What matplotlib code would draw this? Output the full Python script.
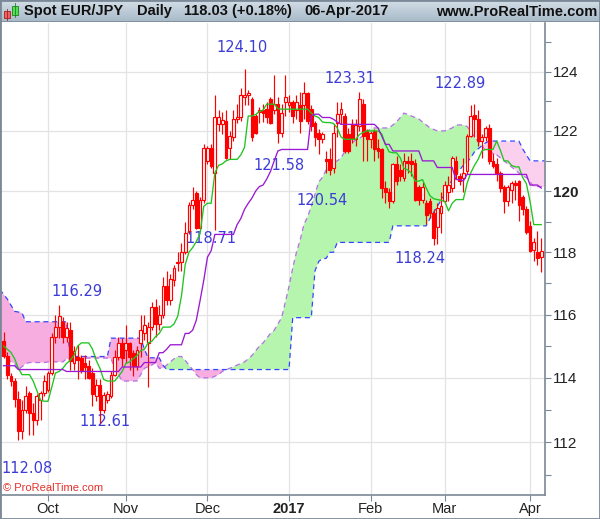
import numpy as np
import pandas as pd
import matplotlib
matplotlib.use("Agg")
import matplotlib.pyplot as plt
from matplotlib.patches import Rectangle
from matplotlib.colors import LinearSegmentedColormap
from matplotlib.ticker import FixedLocator, FixedFormatter, NullFormatter

# daily candles, 15-Sep-2016 .. 06-Apr-2017
dates = pd.bdate_range("2016-09-15", "2017-04-06")

opens = [115.15, 114.70, 114.05, 113.90, 113.35, 112.35, 113.00, 113.53, 112.90, 112.70,
         113.32, 113.53, 113.63, 114.16, 115.30, 115.61, 115.77, 115.30, 115.51, 114.47,
         114.67, 114.63, 114.47, 114.38, 114.16, 113.43, 113.79, 113.00, 113.32, 113.43,
         114.10, 114.67, 115.09, 114.88, 115.09, 114.78, 114.36, 115.09, 115.40, 115.10,
         115.61, 116.24, 115.70, 116.00, 116.90, 116.45, 117.10, 117.66, 117.68, 118.00,
         118.70, 119.55, 119.93, 118.78, 119.72, 121.00, 121.44, 120.60, 122.23, 122.24,
         122.34, 121.44, 121.78, 122.40, 122.46, 123.14, 123.20, 123.09, 122.51, 122.63,
         122.70, 122.74, 123.09, 122.69, 122.92, 121.94, 122.97, 122.86, 122.97, 122.69,
         122.86, 122.86, 123.26, 122.74, 122.28, 121.94, 121.74, 121.05, 121.05, 120.77,
         122.28, 122.57, 122.50, 121.89, 122.23, 121.72, 122.17, 122.92, 122.00, 121.72,
         122.00, 121.44, 121.38, 120.09, 119.98, 119.66, 120.88, 120.71, 120.43, 120.99,
         120.99, 120.93, 120.15, 119.72, 119.60, 119.66, 119.29, 118.81, 119.29, 119.66,
         119.98, 120.09, 121.00, 120.49, 120.43, 120.66, 121.83, 122.55, 122.40, 121.66,
         121.78, 122.11, 120.99, 120.88, 120.60, 120.15, 119.66, 120.04, 120.27, 120.32,
         119.82, 119.40, 118.86, 118.08, 118.00, 117.85]
highs = [115.46, 114.80, 114.15, 114.00, 113.60, 113.30, 113.74, 113.58, 113.20, 113.48,
         113.60, 114.10, 114.20, 115.40, 115.98, 116.29, 115.92, 115.77, 115.77, 114.99,
         115.04, 114.73, 114.73, 114.57, 114.31, 113.95, 113.95, 113.55, 113.60, 114.21,
         114.88, 115.30, 115.25, 115.67, 115.14, 114.88, 114.99, 115.98, 115.98, 115.75,
         116.40, 116.50, 116.30, 117.20, 117.40, 117.30, 117.60, 118.00, 118.30, 118.97,
         119.65, 120.15, 120.00, 119.80, 121.56, 121.50, 121.55, 123.20, 122.70, 122.62,
         122.69, 122.00, 122.69, 122.92, 123.43, 124.10, 123.37, 123.14, 122.57, 122.80,
         122.90, 122.97, 123.14, 123.89, 123.14, 122.90, 123.89, 123.20, 123.03, 123.20,
         123.31, 123.66, 123.31, 122.86, 122.34, 122.06, 121.95, 121.33, 121.44, 122.23,
         122.97, 122.97, 122.60, 122.10, 122.40, 122.40, 123.31, 123.09, 122.06, 122.00,
         122.06, 121.72, 121.44, 120.32, 120.09, 120.93, 121.15, 120.88, 121.27, 121.16,
         121.27, 121.05, 120.21, 120.30, 119.72, 119.77, 119.40, 119.60, 119.98, 120.32,
         120.49, 121.16, 121.15, 120.60, 121.10, 121.89, 122.86, 122.89, 122.69, 121.89,
         122.17, 122.23, 121.27, 121.10, 120.66, 120.21, 120.21, 120.32, 120.35, 120.38,
         119.88, 119.51, 119.02, 118.48, 118.70, 118.48]
lows = [114.63, 113.95, 113.75, 113.10, 112.08, 112.10, 112.90, 112.23, 112.23, 112.54,
        112.70, 113.43, 113.55, 114.10, 115.09, 115.25, 115.09, 115.14, 114.26, 114.26,
        113.95, 114.16, 113.95, 113.95, 113.11, 113.27, 112.61, 112.90, 113.20, 113.38,
        114.05, 114.57, 114.36, 114.47, 114.26, 114.05, 114.26, 114.67, 115.20, 113.70,
        115.50, 115.30, 115.50, 115.90, 116.30, 116.30, 116.90, 117.40, 117.40, 117.95,
        118.60, 119.40, 118.75, 118.75, 119.60, 120.90, 120.75, 118.71, 122.00, 121.89,
        121.05, 121.05, 121.66, 122.28, 122.34, 122.86, 122.86, 121.66, 121.89, 122.28,
        122.30, 122.28, 122.23, 122.57, 121.58, 121.80, 122.51, 122.63, 122.28, 122.40,
        121.94, 122.40, 122.23, 122.00, 121.50, 121.22, 121.60, 120.60, 120.54, 120.60,
        121.78, 122.23, 121.27, 121.27, 121.60, 121.50, 122.00, 121.00, 121.00, 121.44,
        121.00, 121.10, 119.77, 119.60, 119.45, 119.60, 120.21, 120.32, 120.32, 120.60,
        120.50, 119.66, 119.55, 119.60, 118.92, 119.13, 118.24, 118.27, 118.64, 119.60,
        119.66, 119.98, 120.40, 120.20, 119.98, 120.55, 121.78, 121.78, 121.50, 121.10,
        121.66, 120.88, 120.75, 120.32, 119.98, 119.29, 119.51, 119.60, 119.70, 119.02,
        119.23, 118.60, 118.00, 117.73, 117.60, 117.36]
closes = [114.70, 114.10, 113.90, 113.35, 112.35, 113.00, 113.43, 112.90, 112.70, 113.43,
          113.53, 113.90, 114.16, 115.30, 115.61, 115.95, 115.30, 115.56, 114.52, 114.83,
          114.57, 114.26, 114.34, 114.00, 113.48, 113.79, 113.00, 113.45, 113.48, 114.10,
          114.67, 115.09, 114.63, 115.09, 114.67, 114.36, 114.88, 115.51, 115.67, 115.61,
          116.24, 115.70, 116.00, 116.90, 116.45, 117.15, 117.48, 117.70, 118.00, 118.62,
          119.55, 119.72, 118.78, 119.72, 121.44, 121.44, 120.82, 122.46, 122.48, 122.36,
          121.10, 121.83, 122.40, 122.46, 123.22, 123.22, 123.29, 121.78, 121.94, 122.69,
          122.60, 122.46, 122.28, 122.92, 121.94, 122.60, 123.14, 122.97, 122.51, 122.97,
          122.34, 123.26, 122.34, 122.17, 121.78, 121.72, 121.89, 120.98, 120.71, 121.94,
          122.57, 122.74, 121.33, 121.33, 121.72, 122.20, 123.09, 121.83, 121.72, 121.94,
          121.38, 121.33, 120.09, 119.98, 119.66, 120.88, 120.32, 120.49, 120.99, 120.93,
          120.90, 119.72, 119.72, 120.15, 119.23, 119.29, 118.48, 119.45, 119.51, 120.21,
          120.21, 121.10, 120.55, 120.32, 120.60, 121.83, 122.51, 122.40, 121.66, 121.78,
          122.11, 120.99, 120.82, 120.60, 120.09, 119.66, 120.15, 120.27, 120.20, 119.55,
          119.40, 118.65, 118.05, 118.32, 117.82, 118.03]

# Ichimoku lines as drawn (one value per candle)
tenkan = [115.0, 114.9, 114.8, 114.6, 114.3, 114.1, 114.1, 114.1, 113.9, 113.6,
          113.3, 113.27, 113.27, 113.7, 114.15, 114.2, 114.3, 114.45, 114.55, 114.7,
          115.0, 115.1, 115.1, 115.1, 114.9, 114.55, 114.3, 113.95, 113.9, 113.9,
          113.9, 114.05, 114.2, 114.45, 114.5, 114.6, 114.7, 114.85, 114.9, 115.1,
          115.15, 115.3, 115.4, 115.6, 115.6, 115.6, 115.7, 115.95, 116.6, 117.6,
          118.0, 118.15, 118.35, 118.6, 119.5, 119.6, 119.6, 120.6, 120.85, 120.9,
          121.0, 121.05, 121.05, 121.05, 121.2, 121.45, 122.5, 122.5, 122.55, 122.65,
          122.7, 122.9, 122.9, 122.9, 122.75, 122.73, 122.73, 122.73, 122.73, 122.73,
          122.73, 122.73, 122.73, 122.6, 122.5, 122.45, 122.3, 122.28, 122.28, 122.25,
          122.1, 121.8, 121.72, 121.72, 121.72, 121.72, 121.88, 121.95, 122.0, 122.0,
          122.0, 122.0, 121.9, 121.55, 121.3, 121.27, 121.27, 121.1, 120.75, 120.7,
          120.6, 120.33, 120.33, 120.38, 120.1, 119.85, 119.75, 119.72, 119.7, 119.66,
          119.35, 119.6, 119.72, 119.72, 119.72, 120.25, 120.6, 120.85, 121.05, 121.33,
          121.38, 121.38, 121.38, 121.66, 121.35, 121.0, 121.0, 120.85, 120.8, 120.8,
          120.45, 120.25, 119.66, 118.9, 118.9, 118.9]
kijun = [114.38, 114.38, 114.38, 114.38, 114.26, 114.26, 114.26, 114.26, 114.26, 114.26,
         114.26, 114.26, 114.26, 114.26, 114.26, 114.26, 114.26, 114.2, 114.2, 114.2,
         114.2, 114.2, 114.2, 114.2, 114.2, 114.2, 114.2, 114.2, 114.2, 114.2,
         114.2, 114.2, 114.34, 114.34, 114.34, 114.34, 114.34, 114.34, 114.48, 114.48,
         114.48, 114.48, 114.79, 114.79, 114.9, 115.04, 115.04, 115.04, 115.04, 115.4,
         115.4, 115.5, 115.82, 116.44, 117.09, 117.84, 118.05, 118.58, 118.58, 118.58,
         118.58, 118.58, 118.58, 118.9, 119.1, 119.4, 119.6, 119.77, 120.0, 120.15,
         120.2, 120.4, 120.65, 121.0, 121.33, 121.38, 121.38, 121.38, 121.38, 121.38,
         121.38, 121.38, 121.38, 122.5, 122.56, 122.56, 122.45, 122.45, 122.45, 122.39,
         122.3, 122.22, 122.22, 122.22, 122.22, 122.22, 122.22, 122.22, 122.22, 122.22,
         122.22, 122.1, 121.83, 121.55, 121.55, 121.33, 121.33, 121.33, 121.33, 121.33,
         121.33, 121.33, 121.33, 121.0, 121.0, 121.0, 121.0, 120.78, 120.78, 120.78,
         120.78, 120.78, 120.38, 120.38, 120.33, 120.55, 120.55, 120.55, 120.55, 120.55,
         120.55, 120.55, 120.55, 120.55, 120.55, 120.55, 120.55, 120.55, 120.55, 120.55,
         120.55, 120.55, 120.2, 120.2, 120.2, 120.1]
# cloud edges, from one day before the first candle to one day after the last
span_a = [114.7, 114.7, 114.6, 114.5, 114.45, 114.26, 114.35, 114.45, 114.48, 114.48,
          114.48, 114.48, 114.48, 114.5, 114.5, 114.5, 114.5, 114.5, 114.6, 114.55,
          114.55, 114.55, 114.55, 114.62, 114.62, 114.62, 114.62, 114.62, 114.62, 114.62,
          114.6, 114.3, 114.1, 113.9, 113.9, 113.9, 113.9, 113.9, 114.1, 114.3,
          114.35, 114.4, 114.48, 114.3, 114.3, 114.4, 114.5, 114.6, 114.67, 114.67,
          114.55, 114.4, 114.26, 114.1, 114.0, 114.0, 114.0, 114.0, 114.05, 114.1,
          114.2, 114.25, 114.3, 114.35, 114.4, 114.45, 114.5, 114.6, 114.7, 114.85,
          115.0, 115.1, 115.25, 115.4, 115.5, 115.7, 115.9, 116.4, 116.9, 117.5,
          118.0, 118.4, 118.9, 119.15, 119.5, 119.9, 120.3, 120.45, 120.7, 120.9,
          120.95, 121.0, 121.1, 121.3, 121.5, 121.6, 121.7, 121.75, 121.85, 122.0,
          122.05, 122.1, 122.1, 122.1, 122.1, 122.1, 122.2, 122.3, 122.45, 122.6,
          122.55, 122.5, 122.45, 122.4, 122.3, 122.2, 122.1, 122.05, 122.0, 122.0,
          122.0, 122.05, 122.1, 122.2, 122.2, 122.2, 122.15, 122.0, 121.8, 121.65,
          121.5, 121.35, 121.3, 121.25, 121.2, 121.1, 121.0, 120.9, 120.8, 120.7,
          120.6, 120.5, 120.45, 120.3, 120.15, 120.15, 120.15, 120.15]
span_b = [116.8, 116.65, 116.5, 116.3, 116.1, 116.08, 116.05, 115.77, 115.77, 115.77,
          115.77, 115.77, 115.77, 115.77, 115.77, 115.77, 115.77, 115.77, 115.77, 114.67,
          114.67, 114.67, 114.67, 114.67, 114.67, 114.67, 114.67, 114.67, 114.67, 114.67,
          115.25, 115.25, 115.25, 115.25, 115.25, 115.25, 115.25, 115.25, 115.25, 114.9,
          114.63, 114.63, 114.63, 114.63, 114.4, 114.26, 114.26, 114.26, 114.26, 114.26,
          114.26, 114.26, 114.26, 114.26, 114.26, 114.26, 114.26, 114.26, 114.26, 114.26,
          114.26, 114.26, 114.26, 114.26, 114.26, 114.26, 114.26, 114.26, 114.26, 114.26,
          114.26, 114.26, 114.26, 114.26, 114.26, 114.26, 114.26, 114.26, 114.26, 115.9,
          115.9, 115.9, 115.9, 115.9, 115.9, 117.4, 117.7, 117.8, 117.8, 118.0,
          118.0, 118.32, 118.32, 118.32, 118.32, 118.32, 118.32, 118.32, 118.32, 118.32,
          118.32, 118.32, 118.32, 118.32, 118.32, 118.32, 118.86, 118.86, 118.86, 118.86,
          118.86, 118.86, 118.86, 118.86, 118.86, 118.86, 119.1, 119.3, 119.5, 119.7,
          119.9, 120.1, 120.4, 120.55, 120.7, 120.85, 120.95, 121.1, 121.3, 121.4,
          121.5, 121.6, 121.66, 121.66, 121.66, 121.66, 121.66, 121.66, 121.66, 121.66,
          121.66, 121.4, 121.2, 121.0, 121.0, 121.0, 121.0, 121.0]

price_ticks = [112, 114, 116, 118, 120, 122, 124]
minor_ticks = [111, 113, 115, 117, 119, 121, 123, 125]
month_starts = ["2016-10-01", "2016-11-01", "2016-12-01", "2017-01-01",
                "2017-02-01", "2017-03-01", "2017-04-01"]
month_labels = ["Oct", "Nov", "Dec", "2017", "Feb", "Mar", "Apr"]

swing_dates = ["2016-09-21", "2016-10-06", "2016-10-21", "2016-12-05", "2016-12-15",
               "2016-12-28", "2017-01-17", "2017-01-27", "2017-02-24", "2017-03-13"]
swing_prices = [112.08, 116.29, 112.61, 118.71, 124.10, 121.58, 120.54, 123.31, 118.24, 122.89]
swing_offsets = [(9, -29), (18, 14), (5, 1), (-4, -8), (-2, 21),
                 (1, -22), (-8, -26), (-10, 14), (-14, -14), (-14, 21)]

RED = "#ff0000"
GRID = "#e3e3e3"
FRAME = "#7b8897"

o = np.array(opens); h = np.array(highs); l = np.array(lows); c = np.array(closes)
x = np.arange(len(dates))
xs = np.arange(-1, len(dates) + 1)
sa = np.array(span_a); sb = np.array(span_b)

fig = plt.figure(figsize=(6.0, 5.19), dpi=100)
fig.patch.set_facecolor("white")
ax = fig.add_axes([1 / 600, 24 / 519, 544 / 600, 472 / 519])
ax.set_yscale("log")

# cloud: green when span A is on top, pink otherwise (the newest pink part is paler)
late = xs > 110
ax.fill_between(xs, sa, sb, where=sa >= sb, interpolate=True, color="#b5f5ae", lw=0, zorder=1)
ax.fill_between(xs, sa, sb, where=(sa < sb) & ~late, interpolate=True, color="#f7addf", lw=0, zorder=1)
ax.fill_between(xs, sa, sb, where=(sa < sb) & late, interpolate=True, color="#fbd0ee", lw=0, zorder=1)
ax.plot(xs, sa, color="#b56ee6", lw=0.9, ls=(0, (4, 3)), zorder=2)
ax.plot(xs, sb, color="#3346ff", lw=0.9, ls=(0, (4, 3)), zorder=2)

# swing labels (behind candles)
for d, p, off in zip(swing_dates, swing_prices, swing_offsets):
    i = dates.get_loc(pd.Timestamp(d))
    ax.annotate(f"{p:.2f}", xy=(i, p), xytext=off, textcoords="offset pixels",
                ha="center", va="center", fontsize=10.5, color="#3c3cd6",
                family="DejaVu Sans", zorder=2.5, annotation_clip=False)

# candles
ax.vlines(x, l, h, color=RED, lw=0.85, zorder=3)
up = c >= o
body_lo = np.minimum(o, c)
body_h = np.maximum(np.abs(c - o), 0.012)
ax.bar(x[up], body_h[up], bottom=body_lo[up], width=0.75, facecolor="white",
       edgecolor=RED, lw=0.85, zorder=3.2)
ax.bar(x[~up], body_h[~up], bottom=body_lo[~up], width=0.75, facecolor=RED,
       edgecolor=RED, lw=0.85, zorder=3.2)

# tenkan / kijun
ax.plot(x, tenkan, color="#1fc41f", lw=0.95, zorder=4)
ax.plot(x, kijun, color="#9b19d4", lw=0.95, zorder=4)

# axes
ax.set_xlim(-0.675, 146.03)
ax.set_ylim(110.39, 125.67)
month_pos = [int(np.searchsorted(dates, pd.Timestamp(m))) for m in month_starts]
ax.xaxis.set_major_locator(FixedLocator(month_pos))
ax.xaxis.set_major_formatter(FixedFormatter(month_labels))
ax.yaxis.set_major_locator(FixedLocator(price_ticks))
ax.yaxis.set_major_formatter(FixedFormatter([str(t) for t in price_ticks]))
ax.yaxis.set_minor_locator(FixedLocator(minor_ticks))
ax.yaxis.set_minor_formatter(NullFormatter())
ax.yaxis.tick_right()
ax.tick_params(axis="y", which="both", direction="out", length=4.3, width=0.8,
               color=FRAME, pad=1.2, labelsize=11, labelcolor="#222222")
ax.tick_params(axis="x", direction="out", length=4, width=0.8, color=FRAME,
               pad=1.2, labelsize=10.5, labelcolor="#222222")
for lbl in ax.get_yticklabels() + ax.get_xticklabels():
    lbl.set_family("Liberation Sans")
    if lbl.get_text() in ("120", "2017"):
        lbl.set_fontweight("bold")
ax.grid(True, which="major", color=GRID, lw=0.9, zorder=0)
ax.set_axisbelow(True)
for side in ("left", "top"):
    ax.spines[side].set_visible(False)
for side in ("right", "bottom"):
    ax.spines[side].set_color(FRAME)
    ax.spines[side].set_linewidth(1.2)

fig.text(3 / 600, 26 / 519, "\u00a9 ProRealTime.com", color="#e5312b", fontsize=8,
         family="Liberation Sans", ha="left", va="bottom")

# title bar
tb = fig.add_axes([0, 497 / 519, 1, 22 / 519])
grad = np.linspace(0, 1, 50).reshape(-1, 1)
cmap = LinearSegmentedColormap.from_list("bar", ["#d3dee7", "#a7b9c8"])
tb.imshow(grad, aspect="auto", cmap=cmap, extent=[0, 600, 22, 0])
tb.set_xlim(0, 600)
tb.set_ylim(22, 0)
tb.axis("off")
tb.plot([0, 600], [21.5, 21.5], color=FRAME, lw=1.2)
tb.add_patch(Rectangle((3.5, 11), 6, 7, facecolor="#f06060", edgecolor="#a02020", lw=0.6))
tb.plot([6.5, 6.5], [9, 20], color="#a02020", lw=0.6)
tb.add_patch(Rectangle((11.5, 6), 6, 9, facecolor="#50e050", edgecolor="#208020", lw=0.6))
tb.plot([14.5, 14.5], [3, 17], color="#208020", lw=0.6)
for tx, s in [(24, "Spot EUR/JPY"), (137, "Daily"), (184, "118.03 (+0.18%)"), (304, "06-Apr-2017")]:
    tb.text(tx, 11.5, s, fontsize=10.5, fontweight="bold", family="Liberation Sans",
            color="#111111", ha="left", va="center")
tb.text(597, 11.5, "www.ProRealTime.com", fontsize=10.5, fontweight="bold",
        family="Liberation Sans", color="#111111", ha="right", va="center")

fig.add_artist(Rectangle((0, 0), 1, 1, transform=fig.transFigure, fill=False,
                         edgecolor=FRAME, lw=2))

fig.savefig("out.png", dpi=100)
